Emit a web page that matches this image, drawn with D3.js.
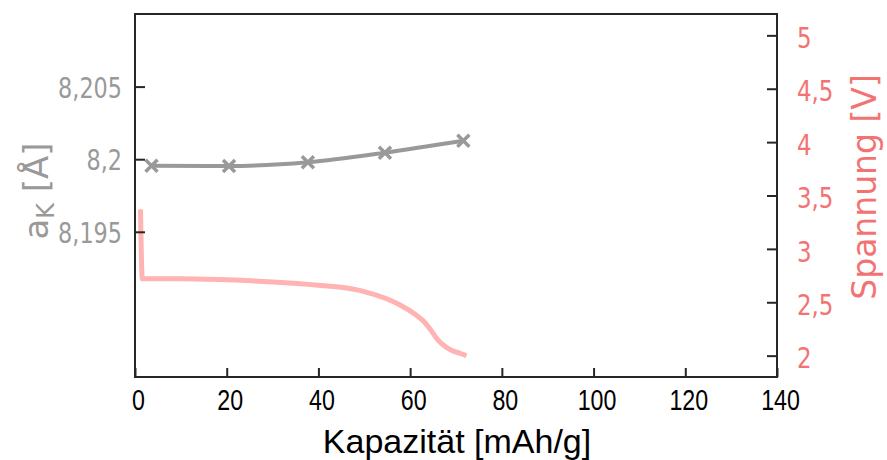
<!DOCTYPE html>
<html>
<head>
<meta charset="utf-8">
<script src="https://cdn.jsdelivr.net/npm/d3@7"></script>
<style>
  html, body { margin: 0; padding: 0; background: #fff; }
  svg { display: block; }
</style>
</head>
<body>
<svg id="chart" width="887" height="460"></svg>
<script>
// Lattice parameter a_K measured at several states of discharge
const capacityPoints = [3.6, 20.5, 37.7, 54.5, 71.6];
const latticeValues = [8.19955, 8.19953, 8.19979, 8.20045, 8.20127];

// Discharge voltage curve
const curveCapacity = [1.2, 1.6, 3, 10, 20, 30, 40, 45, 50, 55, 58, 61, 63, 64.5, 66, 67.5, 69, 71, 72.3];
const curveVoltage  = [3.37, 2.72, 2.72, 2.72, 2.71, 2.69, 2.66, 2.64, 2.60, 2.53, 2.47, 2.39, 2.32, 2.24, 2.15, 2.09, 2.05, 2.02, 2.00];

// Axis ticks
const xTicks = [0, 20, 40, 60, 80, 100, 120, 140];
const leftTicks = [8.195, 8.2, 8.205];
const rightTicks = [2, 2.5, 3, 3.5, 4, 4.5, 5];

const grey = "#999999";
const salmon = "#f37373";
const pink = "#ffb3b3";
const axisColor = "#262626";

const margin = { left: 135, right: 110, top: 14, bottom: 83 };
const W = 887, H = 460;
const x0 = margin.left, x1 = W - margin.right;
const y0 = margin.top, y1 = H - margin.bottom;

const svg = d3.select("#chart");

const x = d3.scaleLinear().domain([0, 140]).range([x0, x1]);
const yL = d3.scaleLinear().domain([8.185, 8.21]).range([y1, y0]);
const yR = d3.scaleLinear().domain([1.8, 5.2]).range([y1, y0]);

const comma = v => String(v).replace(".", ",");

// Voltage curve (drawn first, beneath the lattice data)
const voltageLine = d3.line()
  .x((d, i) => x(curveCapacity[i]))
  .y(d => yR(d))
  .curve(d3.curveMonotoneX);
svg.append("path")
  .attr("d", voltageLine(curveVoltage))
  .attr("fill", "none")
  .attr("stroke", pink)
  .attr("stroke-width", 5)
  .attr("stroke-linejoin", "round");

// Lattice parameter line with cross markers
const latticeLine = d3.line()
  .x((d, i) => x(capacityPoints[i]))
  .y(d => yL(d))
  .curve(d3.curveMonotoneX);
svg.append("path")
  .attr("d", latticeLine(latticeValues))
  .attr("fill", "none")
  .attr("stroke", grey)
  .attr("stroke-width", 4);

const cross = 6;
const marks = svg.append("g").attr("stroke", grey).attr("stroke-width", 3.5);
latticeValues.forEach((v, i) => {
  const cx = x(capacityPoints[i]), cy = yL(v);
  marks.append("path")
    .attr("d", `M${cx - cross},${cy - cross}L${cx + cross},${cy + cross}M${cx - cross},${cy + cross}L${cx + cross},${cy - cross}`);
});

// Axes with inward ticks
const xAxis = svg.append("g")
  .attr("transform", `translate(0,${y1})`)
  .call(d3.axisBottom(x).tickValues(xTicks).tickSizeInner(-9).tickSizeOuter(0).tickPadding(0).tickFormat(d3.format("d")));
xAxis.select(".domain").remove();
xAxis.selectAll(".tick line").attr("stroke", axisColor).attr("stroke-width", 2);
xAxis.selectAll(".tick text")
  .attr("y", 0).attr("dy", null)
  .attr("transform", "translate(3,32.5) scale(0.8,1)")
  .attr("fill", "#000")
  .style("font-family", "'Liberation Sans', Arial, sans-serif")
  .style("font-size", "29px");

const lAxis = svg.append("g")
  .attr("transform", `translate(${x0},0)`)
  .call(d3.axisLeft(yL).tickValues(leftTicks).tickSizeInner(-10).tickSizeOuter(0).tickPadding(0).tickFormat(comma));
lAxis.select(".domain").remove();
lAxis.selectAll(".tick line").attr("stroke", axisColor).attr("stroke-width", 2);
lAxis.selectAll(".tick text")
  .attr("x", 0).attr("dy", "0.36em")
  .attr("transform", "translate(-13,0) scale(0.77,1)")
  .attr("fill", grey)
  .style("font-family", "'DejaVu Sans', sans-serif")
  .style("font-size", "29px");

const rAxis = svg.append("g")
  .attr("transform", `translate(${x1},0)`)
  .call(d3.axisRight(yR).tickValues(rightTicks).tickSizeInner(-10).tickSizeOuter(0).tickPadding(0).tickFormat(comma));
rAxis.select(".domain").remove();
rAxis.selectAll(".tick line").attr("stroke", axisColor).attr("stroke-width", 2);
rAxis.selectAll(".tick text")
  .attr("x", 0).attr("dy", "0.42em")
  .attr("transform", "translate(20,0) scale(0.79,1)")
  .attr("fill", salmon)
  .style("font-family", "'DejaVu Sans', sans-serif")
  .style("font-size", "29px");

// Plot frame
svg.append("rect")
  .attr("x", x0).attr("y", y0)
  .attr("width", x1 - x0).attr("height", y1 - y0)
  .attr("fill", "none")
  .attr("stroke", axisColor)
  .attr("stroke-width", 2);

// Axis titles
svg.append("text")
  .attr("x", (x0 + x1) / 2 + 1).attr("y", 453)
  .attr("text-anchor", "middle")
  .attr("fill", "#000")
  .style("font-family", "'Liberation Sans', Arial, sans-serif")
  .style("font-size", "34px")
  .text("Kapazität [mAh/g]");

const lt = svg.append("text")
  .attr("transform", "translate(48,191) rotate(-90)")
  .attr("text-anchor", "middle")
  .attr("fill", grey)
  .style("font-family", "'DejaVu Sans', sans-serif")
  .style("font-size", "34px");
lt.append("tspan").text("a");
lt.append("tspan").attr("dy", "6").style("font-size", "24px").text("K");
lt.append("tspan").attr("dy", "-6").text(" [Å]");

svg.append("text")
  .attr("transform", "translate(876,187) rotate(-90)")
  .attr("text-anchor", "middle")
  .attr("fill", salmon)
  .style("font-family", "'DejaVu Sans', sans-serif")
  .style("font-size", "33px")
  .text("Spannung [V]");
</script>
</body>
</html>
